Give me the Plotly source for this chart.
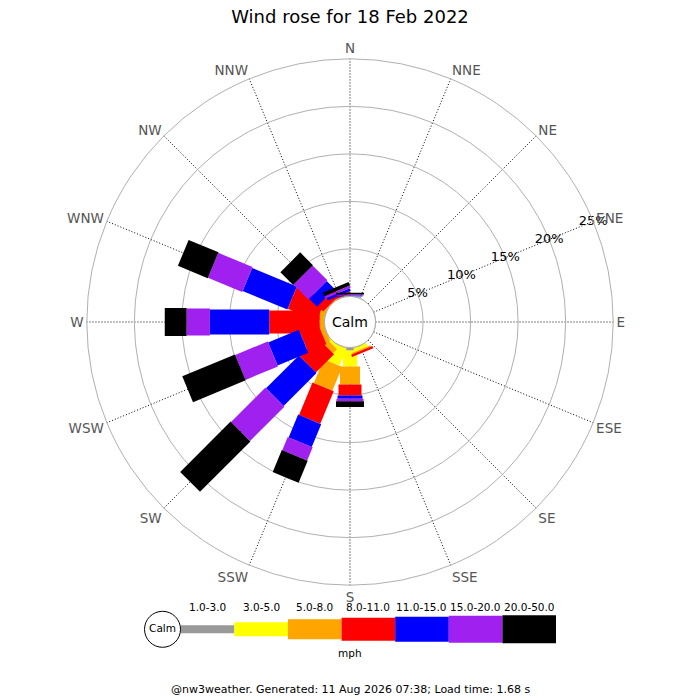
import plotly.graph_objects as go

directions = ['N', 'NNE', 'NE', 'ENE', 'E', 'ESE', 'SE', 'SSE',
              'S', 'SSW', 'SW', 'WSW', 'W', 'WNW', 'NW', 'NNW']
bearings = [0, 22.5, 45, 67.5, 90, 112.5, 135, 157.5,
            180, 202.5, 225, 247.5, 270, 292.5, 315, 337.5]

speed_bins = ['1.0-3.0', '3.0-5.0', '5.0-8.0', '8.0-11.0',
              '11.0-15.0', '15.0-20.0', '20.0-50.0']
bin_colors = ['#999999', '#ffff00', '#ffa500', '#ff0000',
              '#0000ff', '#a020f0', '#000000']
bin_widths = [8, 14, 20, 23, 25, 27, 28]

# % of time, direction order N .. NNW
freq_1_3 = [0, 0, 0, 0, 0, 0, 0, 0, 0.3, 0, 0, 0, 0, 0, 0, 0]
freq_3_5 = [0, 0, 0, 0, 0, 0, 0, 0.4, 1.7, 2.0, 0.3, 0, 0, 0, 0, 0]
freq_5_8 = [0, 0, 0, 0, 0, 0, 0, 0.15, 1.9, 2.7, 0.6, 0.5, 0.5, 0.6, 0.1, 0.1]
freq_8_11 = [0, 0, 0, 0, 0, 0, 0, 0.25, 1.15, 3.7, 2.7, 2.1, 5.3, 3.3, 0.8, 0.2]
freq_11_15 = [0.1, 0, 0, 0, 0, 0, 0, 0, 0.35, 2.6, 4.9, 3.5, 6.25, 5.1, 1.2, 0.3]
freq_15_20 = [0.1, 0, 0, 0, 0, 0, 0, 0, 0.25, 1.5, 5.1, 3.7, 2.45, 3.9, 2.2, 0.25]
freq_20_50 = [0.2, 0, 0, 0, 0, 0, 0, 0, 0.6, 2.5, 7.5, 6.0, 2.3, 3.4, 1.9, 0.4]
freqs = [freq_1_3, freq_3_5, freq_5_8, freq_8_11, freq_11_15, freq_15_20, freq_20_50]

radial_ticks = [5, 10, 15, 20, 25]
label_bearing = 67.5

font = 'DejaVu Sans'

fig = go.Figure()

# stacked bars, drawn as thick radial line segments (constant pixel width)
base = [0] * len(directions)
for name, vals, col, w in zip(speed_bins, freqs, bin_colors, bin_widths):
    r, th = [], []
    for i, v in enumerate(vals):
        if v > 0:
            r += [base[i], base[i] + v, None]
            th += [bearings[i], bearings[i], None]
        base[i] += v
    fig.add_trace(go.Scatterpolar(
        r=r, theta=th, mode='lines', name=name,
        line=dict(color=col, width=w),
        hoverinfo='skip', showlegend=False,
    ))

# calm circle outline
fig.add_trace(go.Scatterpolar(
    r=[0] * 73, theta=list(range(0, 365, 5)), mode='lines',
    line=dict(color='#999999', width=1), hoverinfo='skip', showlegend=False,
))

# radial labels along ENE spoke
fig.add_trace(go.Scatterpolar(
    r=radial_ticks, theta=[label_bearing] * len(radial_ticks), mode='text',
    text=['%d%%' % v for v in radial_ticks],
    textfont=dict(family=font, size=13, color='black'),
    cliponaxis=False, hoverinfo='skip', showlegend=False,
))

# legend bar
for i, (name, col, w) in enumerate(zip(speed_bins, bin_colors, bin_widths)):
    fig.add_trace(go.Scatter(
        x=[i, i + 1], y=[0, 0], mode='lines',
        line=dict(color=col, width=w),
        hoverinfo='skip', showlegend=False,
    ))
fig.add_trace(go.Scatter(
    x=[-0.34], y=[0], mode='markers+text', text=['Calm'],
    textposition='middle center',
    textfont=dict(family=font, size=10.5, color='black'),
    marker=dict(size=36, color='white', line=dict(color='black', width=1)),
    hoverinfo='skip', showlegend=False,
))

annotations = []
for i, name in enumerate(speed_bins):
    annotations.append(dict(
        x=i + 0.5, xref='x', y=0.1333, yref='paper', yanchor='middle', text=name,
        showarrow=False, font=dict(family=font, size=10.5, color='black'),
    ))
annotations += [
    dict(x=0.5, y=0.54, xref='paper', yref='paper', yanchor='middle',
         text='Calm', showarrow=False,
         font=dict(family=font, size=14, color='black')),
    dict(x=0.5, y=0.067, xref='paper', yref='paper', yanchor='middle',
         text='mph', showarrow=False,
         font=dict(family=font, size=10.5, color='black')),
    dict(x=0.5, y=0.0143, xref='paper', yref='paper', yanchor='middle',
         showarrow=False,
         text='@nw3weather. Generated: 11 Aug 2026 07:38; Load time: 1.68 s',
         font=dict(family=font, size=11, color='black')),
]

fig.update_layout(
    width=700, height=700,
    margin=dict(l=0, r=0, t=0, b=0),
    paper_bgcolor='white', plot_bgcolor='white',
    font=dict(family=font, color='black'),
    title=dict(text='Wind rose for 18 Feb 2022', x=0.5, y=0.976,
               xanchor='center', yanchor='middle',
               font=dict(family=font, size=18, color='black')),
    polar=dict(
        domain=dict(x=[0, 1], y=[0.164, 0.916]),
        hole=0.097,
        bgcolor='white',
        radialaxis=dict(range=[0, 25], tickvals=radial_ticks,
                        showticklabels=False, ticks='', showline=False,
                        gridcolor='#b0b0b0', gridwidth=1, angle=label_bearing),
        angularaxis=dict(rotation=90, direction='clockwise',
                         tickmode='array', tickvals=bearings, ticktext=directions,
                         ticks='', showline=True, linecolor='#b0b0b0',
                         gridcolor='black', griddash='1px,2px', gridwidth=0.8,
                         tickfont=dict(family=font, size=13.5, color='#555555')),
    ),
    xaxis=dict(domain=[0.2046, 0.7943], range=[-0.7, 7], visible=False, fixedrange=True),
    yaxis=dict(domain=[0.071, 0.131], range=[-1, 1], visible=False, fixedrange=True),
    annotations=annotations,
)

# drop the default 8px body margin so the 700x700 figure fills the window
fig.write_html('out.html', config={'displayModeBar': False},
               post_script="document.body.style.margin='0';")
